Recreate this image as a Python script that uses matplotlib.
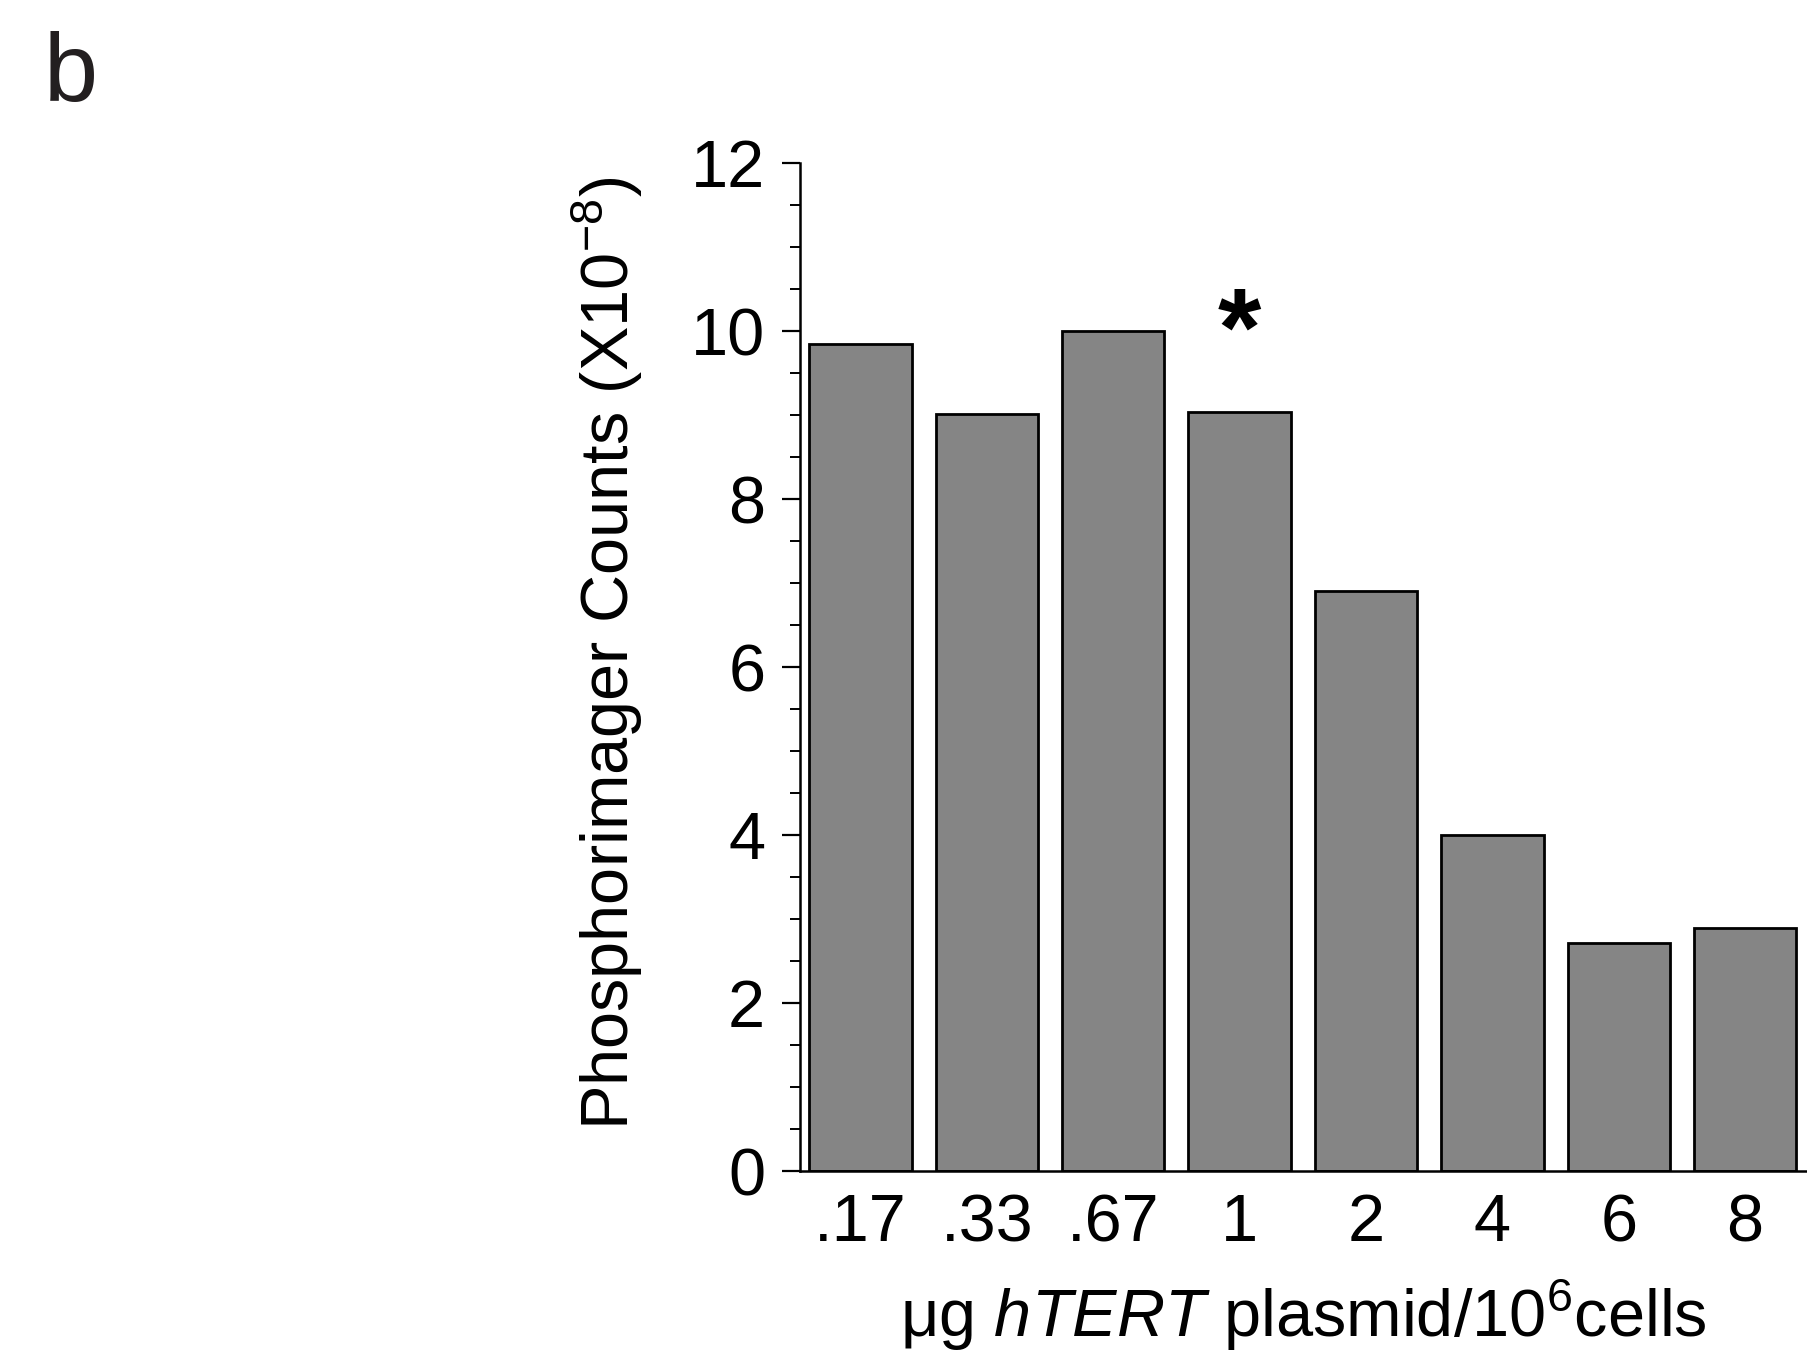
import numpy as np
import matplotlib
matplotlib.use('Agg')
import matplotlib.pyplot as plt
from matplotlib.ticker import MultipleLocator

plt.rcParams['font.family'] = ['Liberation Sans', 'DejaVu Sans']
plt.rcParams['mathtext.fontset'] = 'custom'
plt.rcParams['mathtext.rm'] = 'Liberation Sans'
plt.rcParams['mathtext.it'] = 'Liberation Sans:italic'
plt.rcParams['mathtext.bf'] = 'Liberation Sans:bold'

# ug plasmid per 10^6 cells
doses = ['.17', '.33', '.67', '1', '2', '4', '6', '8']
counts = [9.85, 9.01, 10.0, 9.04, 6.9, 4.0, 2.71, 2.89]
star_bar = 3

fig = plt.figure(figsize=(18.07, 13.61), dpi=100)
ax = fig.add_axes([0.4427, 0.1396, 0.5573, 0.7406])

x = np.arange(len(doses))
ax.bar(x, counts, width=0.81, color='#858585', edgecolor='black', linewidth=2)

ax.text(x[star_bar], counts[star_bar] + 0.9, '*', ha='center', va='center',
        fontsize=80, fontweight='bold')

ax.set_xlim(-0.48, 7.49)
ax.set_ylim(0, 12)
ax.set_xticks(x)
ax.set_xticklabels(doses)
ax.yaxis.set_major_locator(MultipleLocator(2))
ax.yaxis.set_minor_locator(MultipleLocator(0.5))

for s in ['top', 'right']:
    ax.spines[s].set_visible(False)
for s in ['left', 'bottom']:
    ax.spines[s].set_linewidth(1.8)

ax.tick_params(axis='y', which='major', direction='out', length=13, width=1.6,
               labelsize=48, pad=12)
ax.tick_params(axis='y', which='minor', direction='out', length=7, width=1.4)
ax.tick_params(axis='x', length=0, labelsize=48, pad=16)

ax.set_ylabel(r'Phosphorimager Counts (X10$^{\mathregular{-8}}$)', fontsize=48)
ax.yaxis.set_label_coords(-0.154, 0.514)
ax.set_xlabel(r'$\mathregular{\mu}$g $\mathit{hTERT}$ plasmid/10$^{\mathregular{6}}$cells',
              fontsize=48, labelpad=16)

fig.text(0.024, 0.944, 'b', fontsize=70, color='#231f20', va='center')

fig.savefig('out.png', dpi=100)
